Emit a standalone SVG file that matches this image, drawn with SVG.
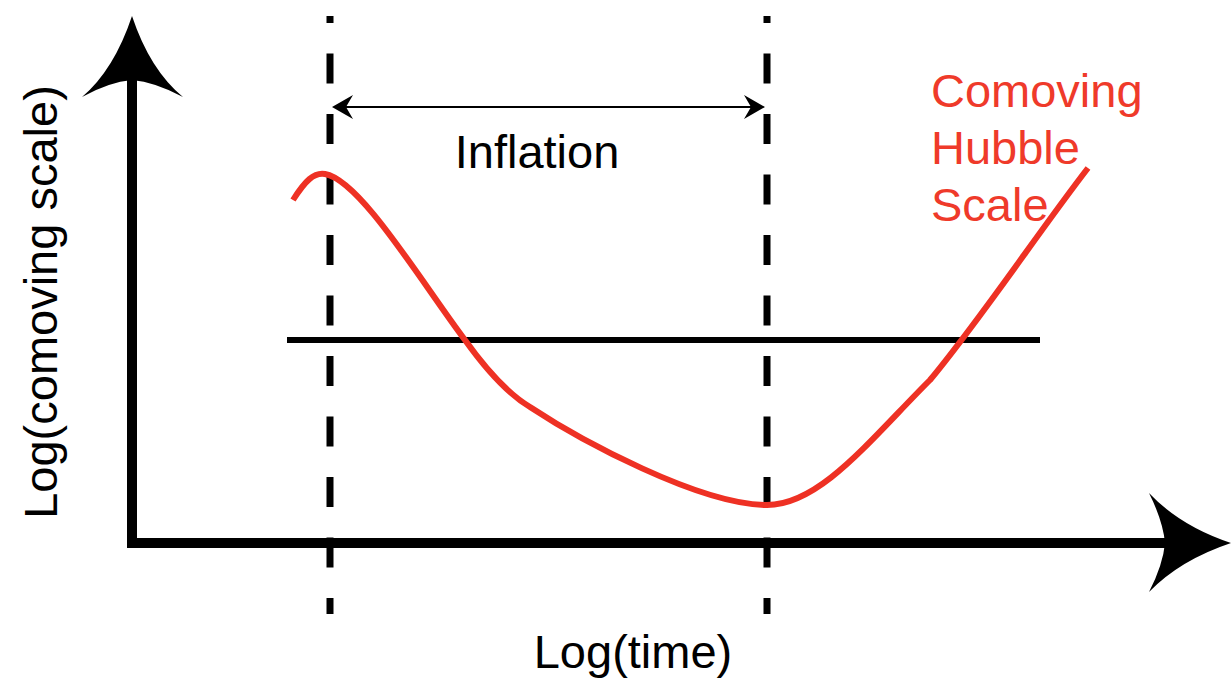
<svg xmlns="http://www.w3.org/2000/svg" width="1231" height="685" viewBox="0 0 1231 685">
<style>
.lbl{font-family:"Liberation Sans",Arial,sans-serif;font-size:47px;fill:#000}
.red{fill:#EF3A2A}
.axis{stroke:#000;stroke-width:10;fill:none}
.dash{stroke:#000;stroke-width:7;fill:none;stroke-dasharray:30 30.5}
</style>
<rect width="1231" height="685" fill="#fff"/>
<g id="connectors">
<g id="y-axis">
<line class="axis" x1="132" y1="548" x2="132" y2="80"/>
<path d="M132 16 Q150 70 183 97 Q155 82 132 80 Q109 82 82 97 Q114 70 132 16 Z" fill="#000"/>
</g>
<g id="x-axis">
<line class="axis" x1="127" y1="543" x2="1168" y2="543"/>
<path d="M1231 543 Q1180 560 1149 592 Q1163 565 1165 543 Q1163 521 1149 493 Q1180 526 1231 543 Z" fill="#000"/>
</g>
<line id="dash-left" class="dash" x1="330" y1="16" x2="330" y2="614" stroke-dashoffset="23"/>
<line id="dash-right" class="dash" x1="767" y1="16" x2="767" y2="614" stroke-dashoffset="23"/>
<line id="hline" x1="287" y1="340" x2="1040" y2="340" stroke="#000" stroke-width="6"/>
<g id="inflation-arrow">
<line x1="336" y1="107" x2="761" y2="107" stroke="#000" stroke-width="2"/>
<path d="M332 107 L353 95 L346 107 L353 119 Z" fill="#000"/>
<path d="M765 107 L744 95 L751 107 L744 119 Z" fill="#000"/>
</g>
<path id="hubble-curve" d="M293 200 C305 181 314 172 325 174 C360 180 420 280 465 340 C490 375 510 395 530 407 C580 440 700 505 767 505 C820 505 870 440 930 380 C980 320 1040 230 1088 168" fill="none" stroke="#EE3124" stroke-width="6"/>
</g>
<g id="label-inflation"><text class="lbl" x="537" y="168" text-anchor="middle">Inflation</text></g>
<g id="label-x"><text class="lbl" x="633" y="668" text-anchor="middle">Log(time)</text></g>
<g id="label-y"><text class="lbl" transform="translate(57 302) rotate(-90)" text-anchor="middle">Log(comoving scale)</text></g>
<g id="label-hubble">
<text class="lbl red" x="931" y="107">Comoving</text>
<text class="lbl red" x="931" y="164">Hubble</text>
<text class="lbl red" x="931" y="221">Scale</text>
</g>
</svg>
